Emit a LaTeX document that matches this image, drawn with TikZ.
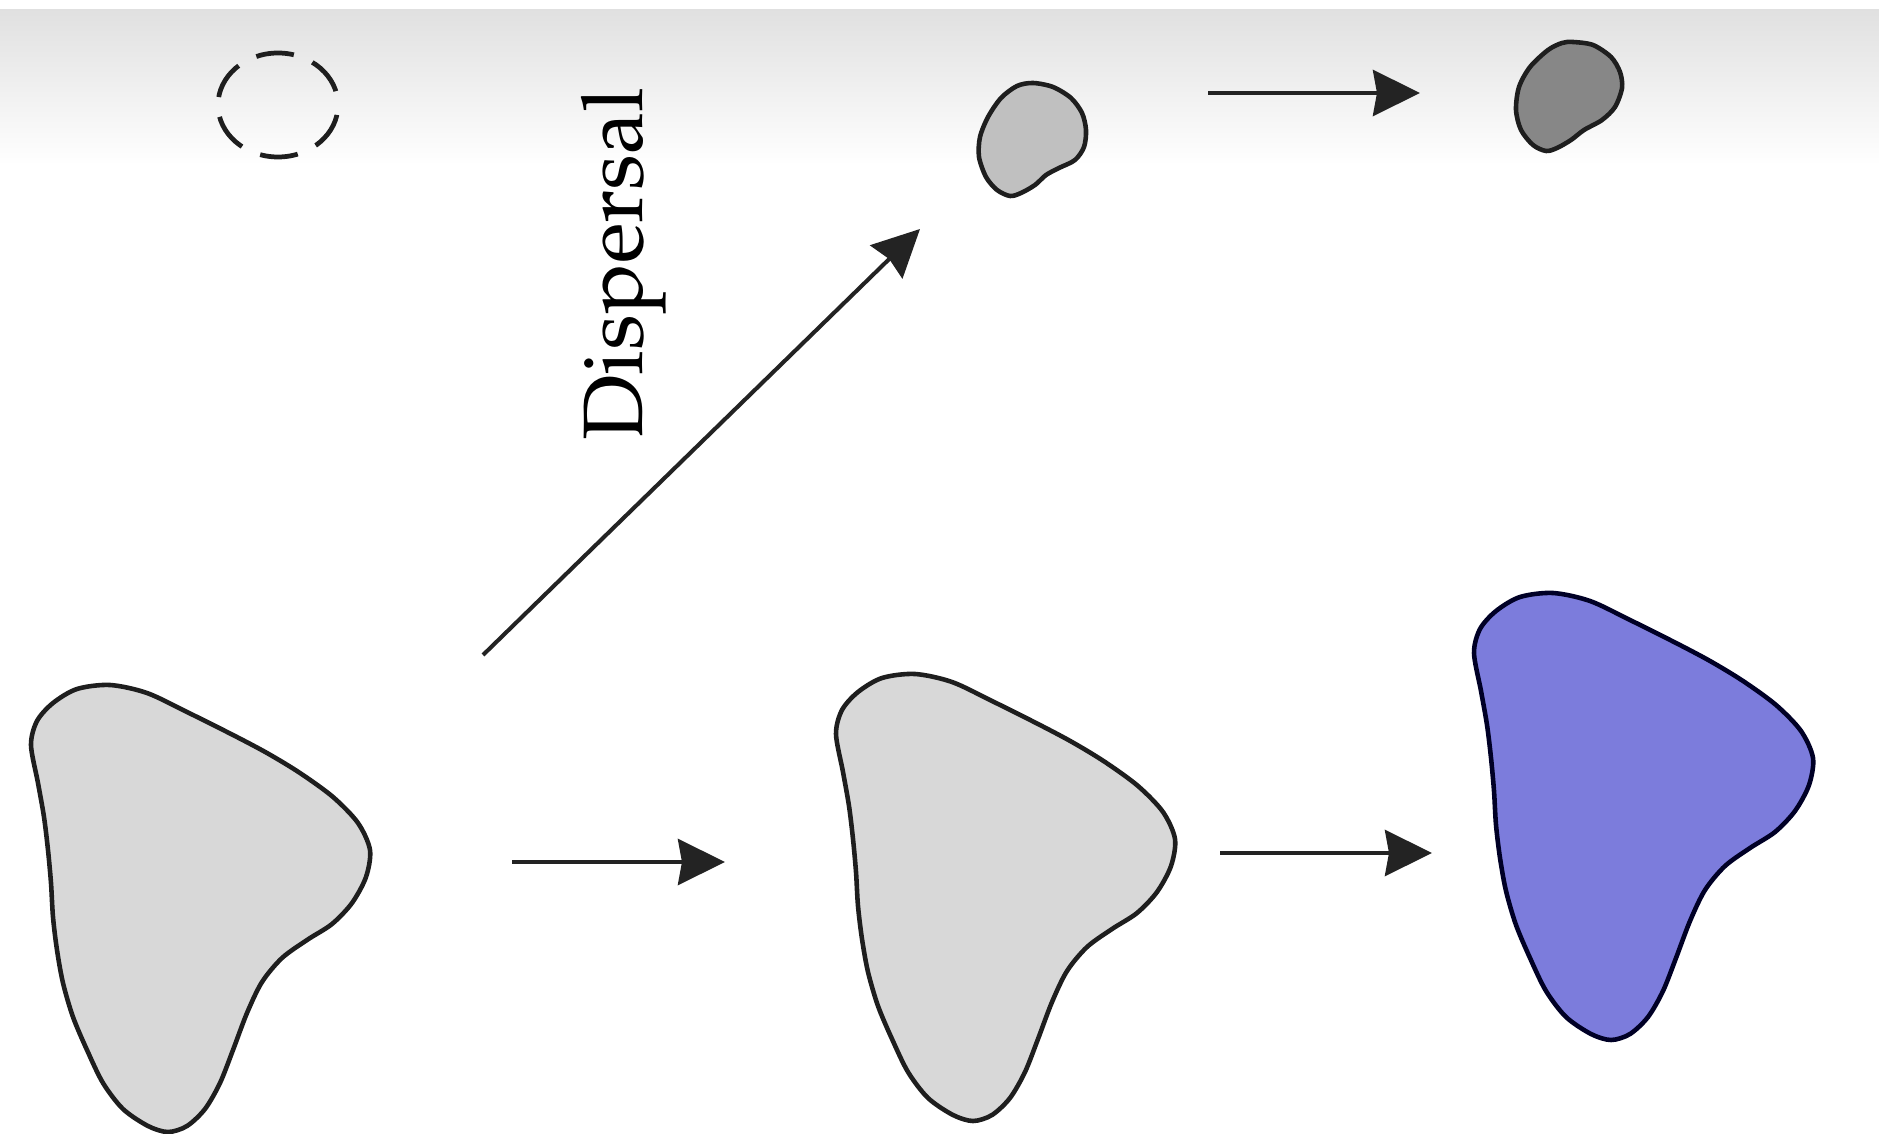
\documentclass[tikz,border=0pt]{standalone}
\usetikzlibrary{arrows.meta}
\definecolor{outline}{RGB}{30,30,30}
\definecolor{lightblob}{RGB}{216,216,216}
\definecolor{blueblob}{RGB}{124,124,220}
\definecolor{smallA}{RGB}{192,192,192}
\definecolor{smallB}{RGB}{135,135,135}
\definecolor{arrowcol}{RGB}{35,35,35}
\tikzset{
  blobline/.style={draw=outline, line width=1.3pt, line join=round},
  lightfill/.style={fill=lightblob},
  bluefill/.style={fill=blueblob, draw=black!85!blue},
  smallAfill/.style={fill=smallA},
  smallBfill/.style={fill=smallB},
  arrowline/.style={draw=arrowcol, line width=1.15pt,
    -{Stealth[length=0.47cm, width=0.46cm, inset=0.04cm]}},
  dashring/.style={draw=outline, line width=1.35pt, dash pattern=on 0.38cm off 0.2cm, dash phase=0.48cm},
  bigblob/.pic={
    \path[blobline,#1] plot[smooth cycle, tension=0.5] coordinates {
      (31,745) (37,721) (53,703) (77,689) (110,685) (147,693) (187,712)
      (233,735) (267,753) (300,773) (333,797) (358,823) (370,850) (366,877)
      (352,903) (332,924) (307,940) (282,958) (262,982) (247,1013)
      (233,1050) (220,1083) (205,1109) (187,1126) (168,1132) (148,1126)
      (123,1109) (103,1083) (87,1050) (73,1017) (63,983) (57,950) (53,917)
      (51,883) (48,850) (44,817) (38,783)};
  }
}
\begin{document}
\begin{tikzpicture}[x=0.01cm,y=-0.01cm]
\useasboundingbox (0,0) rectangle (1879,1134);
\fill[white] (0,0) rectangle (1879,1134);
\shade[top color=black!12, bottom color=white] (0,10) rectangle (1879,165);

% dashed ring
\draw[dashring] (278,105) ellipse [x radius=60, y radius=52];

% big blobs
\pic at (0,0) {bigblob=lightfill};
\pic at (805,-11) {bigblob=lightfill};
\pic at (1443,-92) {bigblob=bluefill};

% small blobs
\path[blobline, smallAfill] plot[smooth cycle, tension=0.5] coordinates {
  (1033,83) (1053,87) (1071,98) (1082,113) (1086,130) (1084,147)
  (1075,160) (1059,168) (1046,175) (1035,185) (1021,193) (1010,196)
  (997,190) (986,177) (979,157) (980,137) (988,117) (1001,98) (1017,86)};
\path[blobline, smallBfill] plot[smooth cycle, tension=0.5] coordinates {
  (1573,42) (1593,45) (1611,57) (1620,72) (1622,88) (1615,107)
  (1602,120) (1584,130) (1571,140) (1557,148) (1546,151) (1533,145)
  (1521,130) (1516,110) (1519,87) (1530,67) (1548,50) (1562,43)};

% label
\node[rotate=90, anchor=base, inner sep=0pt,
  font=\fontencoding{T1}\fontfamily{ppl}\fontsize{24}{29}\selectfont] (lbl) at (642,264) {Dispersal};

% arrow end points
\coordinate (a1s) at (512,862);
\coordinate (a1e) at (725,862);
\coordinate (a2s) at (1220,853);
\coordinate (a2e) at (1432,853);
\coordinate (a3s) at (1208,93);
\coordinate (a3e) at (1420,93);
\coordinate (ds) at (483,655);
\coordinate (de) at (920,229);

\draw[arrowline] (a1s) -- (a1e);
\draw[arrowline] (a2s) -- (a2e);
\draw[arrowline] (a3s) -- (a3e);
\draw[arrowline] (ds) -- (de);
\end{tikzpicture}
\end{document}
